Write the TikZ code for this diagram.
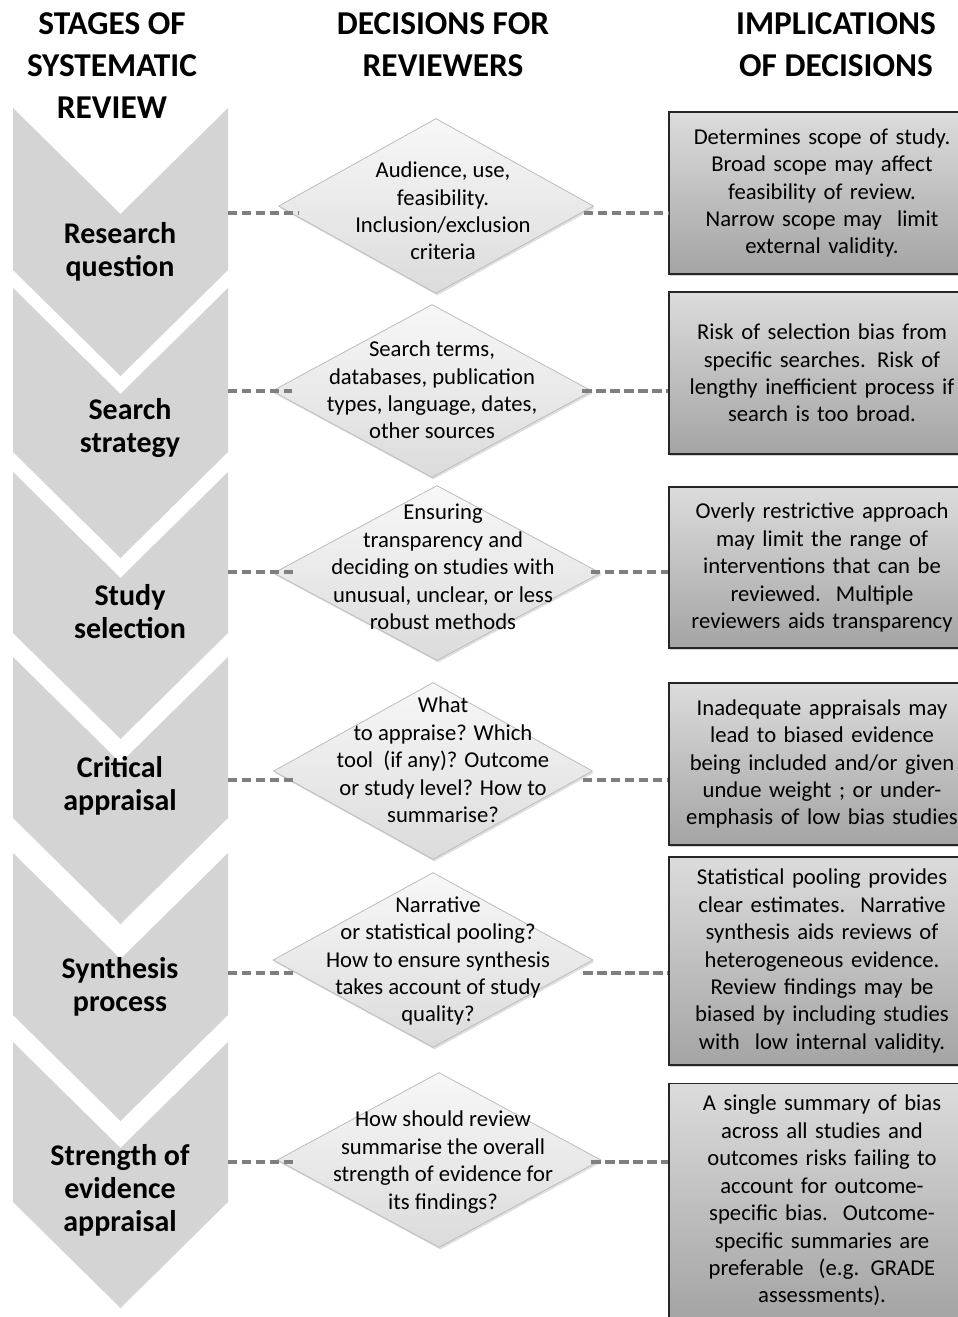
\documentclass[tikz,border=0pt]{standalone}
\usepackage{fontspec}
\setmainfont{Carlito}
\usetikzlibrary{shapes.geometric,shadows,calc}
\definecolor{chevgray}{HTML}{D4D4D4}
\definecolor{diagray}{HTML}{BDBDBD}
\definecolor{linkgray}{HTML}{7F7F7F}
\definecolor{boxtop}{HTML}{DCDCDC}
\definecolor{boxbot}{HTML}{A4A4A4}

\begin{document}
\begin{tikzpicture}[x=0.75pt,y=-0.75pt,
  head/.style={font=\fontsize{25}{31.5}\selectfont\bfseries,align=center},
  stage/.style={font=\fontsize{22.5}{24.75}\selectfont\bfseries,align=center},
  decision/.style={diamond,draw=diagray,line width=0.6pt,inner sep=0pt,
    top color=white!97!black,bottom color=white!86!black,
    drop shadow={opacity=0.25,shadow xshift=1pt,shadow yshift=-1.5pt}},
  dtext/.style={font=\fontsize{17}{20.6}\selectfont,align=center},
  impl/.style={rectangle,draw=black!85,line width=0.9pt,inner sep=1pt,
    top color=boxtop,bottom color=boxbot,minimum width=229.5pt,text width=215pt,
    font=\fontsize{17}{20.6}\selectfont,align=center,
    drop shadow={opacity=0.35,shadow xshift=1pt,shadow yshift=-1.5pt}},
  link/.style={draw=linkgray,line width=3pt,dash pattern=on 7pt off 3.5pt}]
  \path[use as bounding box,fill=white] (0,0) rectangle (957,1317);

  \foreach \t/\b in {108/270,288/452,472/633,657/818,853/1015,1042/1202}
    \fill[chevgray] (13,\t) -- (120.5,\t+106) -- (228,\t) -- (228,\b)
      -- (120.5,\b+106) -- (13,\b) -- cycle;

  \node[head] (h1) at (112,66) {STAGES OF\\SYSTEMATIC\\REVIEW};
  \node[head] (h2) at (443,45) {DECISIONS FOR\\REVIEWERS};
  \node[head] (h3) at (836,45) {IMPLICATIONS\\OF DECISIONS};

  \node[stage] (s1) at (120,252) {Research\\question};
  \node[stage] (s2) at (130,428) {Search\\strategy};
  \node[stage] (s3) at (130,612) {Study\\selection};
  \node[stage] (s4) at (120,786) {Critical\\appraisal};
  \node[stage] (s5) at (120,987) {Synthesis\\process};
  \node[stage] (s6) at (120,1190) {Strength of\\evidence\\appraisal};

  \node[decision,minimum width=236.25pt,minimum height=131.25pt] (d1) at (436,206) {};
  \node[decision,minimum width=240pt,minimum height=129.75pt] (d2) at (432,391) {};
  \node[decision,minimum width=245.25pt,minimum height=131.25pt] (d3) at (437,573) {};
  \node[decision,minimum width=239.25pt,minimum height=132.75pt] (d4) at (433,771) {};
  \node[decision,minimum width=240pt,minimum height=131.25pt] (d5) at (433,960) {};
  \node[decision,minimum width=243pt,minimum height=131.25pt] (d6) at (439,1160) {};

  \node[dtext] (q1) at (443,211) {Audience, use,\\feasibility.\\Inclusion/exclusion\\criteria};
  \node[dtext] (q2) at (432,390) {Search terms,\\databases, publication\\types, language, dates,\\other sources};
  \node[dtext] (q3) at (443,567) {Ensuring\\transparency and\\deciding on studies with\\unusual, unclear, or less\\robust methods};
  \node[dtext] (q4) at (443,760) {What\\to appraise? Which\\tool\ \ (if any)? Outcome\\or study level? How to\\summarise?};
  \node[dtext] (q5) at (438,961) {Narrative\\or statistical pooling?\\How to ensure synthesis\\takes account of study\\quality?};
  \node[dtext] (q6) at (443,1162) {How should review\\summarise the overall\\strength of evidence for\\its findings?};

  \node[impl,minimum height=121.5pt] (b1) at (822,193) {Determines scope of study.\\Broad scope may affect\\feasibility of review.\\Narrow scope may\ \ limit\\external validity.};
  \node[impl,minimum height=121.5pt] (b2) at (822,373) {Risk of selection bias from\\specific searches. Risk of\\lengthy inefficient process if\\search is too broad.};
  \node[impl,minimum height=120.75pt] (b3) at (822,567.5) {Overly restrictive approach\\may limit the range of\\interventions that can be\\reviewed.\ \ Multiple\\reviewers aids transparency};
  \node[impl,minimum height=121.5pt] (b4) at (822,764) {Inadequate appraisals may\\lead to biased evidence\\being included and/or given\\undue weight ; or under-\\emphasis of low bias studies};
  \node[impl,minimum height=156pt] (b5) at (822,961) {Statistical pooling provides\\clear estimates.\ \ Narrative\\synthesis aids reviews of\\heterogeneous evidence.\\Review findings may be\\biased by including studies\\with\ \ low internal validity.};
  \node[impl,minimum height=176pt] (b6) at (822,1200.5) {A single summary of bias\\across all studies and\\outcomes risks failing to\\account for outcome-\\specific bias.\ \ Outcome-\\specific summaries are\\preferable\ \ (e.g. GRADE\\assessments).};

  \foreach \i/\y in {1/213,2/391,3/572,4/780,5/973,6/1162} {
    \coordinate (e\i) at (228,\y);
    \draw[link] (e\i) -- ($(e\i -| d\i.west)+(20,0)$);
    \draw[link] ($(e\i -| d\i.east)+(-10,0)$) -- (e\i -| b\i.west);
  }
\end{tikzpicture}
\end{document}
